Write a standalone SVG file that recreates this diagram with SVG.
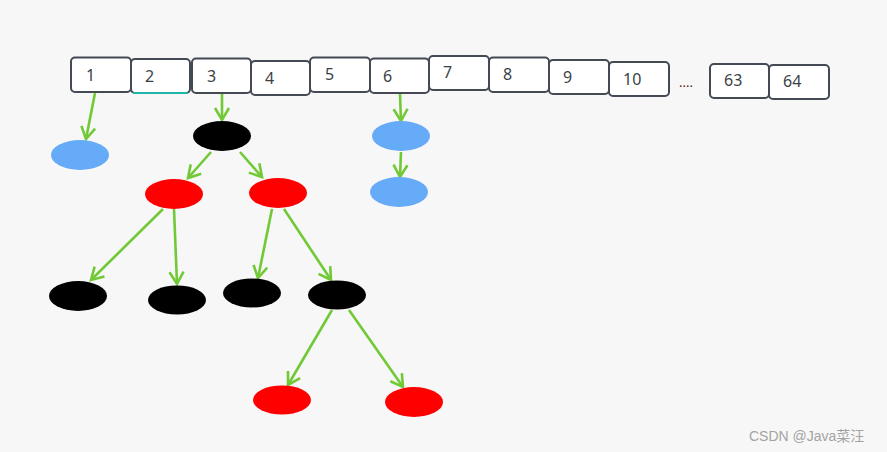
<svg xmlns="http://www.w3.org/2000/svg" width="887" height="452" viewBox="0 0 887 452">
<defs>
<style>
.box{fill:#fff;stroke:#434a54;stroke-width:2}
.lbl{font-family:"Noto Sans","Open Sans",sans-serif;font-size:16px;fill:#3a3f47}
.edge{stroke:#72c936;stroke-width:2.6;fill:none}
.blue{fill:#66abf7}
.red{fill:#ff0000}
.black{fill:#000}
</style>
<marker id="arr" markerUnits="userSpaceOnUse" markerWidth="18" markerHeight="18" refX="13" refY="8" orient="auto" viewBox="0 0 18 16">
<path d="M1,1 L13,8 L1,15" fill="none" stroke="#72c936" stroke-width="2.6"/>
</marker>
</defs>
<rect width="887" height="452" fill="#f7f7f7"/>
<g id="array">
<g id="b1"><rect class="box" x="71" y="57.5" width="60" height="34.5" rx="4"/><text class="lbl" x="86" y="81">1</text></g>
<g id="b2"><rect class="box" x="131" y="59" width="59" height="34" rx="4"/><path d="M133,93 L188,93" stroke="#1fb5a8" stroke-width="2"/><text class="lbl" x="145" y="82">2</text></g>
<g id="b3"><rect class="box" x="192" y="58.5" width="59" height="34.5" rx="4"/><text class="lbl" x="207" y="82">3</text></g>
<g id="b4"><rect class="box" x="251" y="61" width="59" height="34" rx="4"/><text class="lbl" x="265" y="84">4</text></g>
<g id="b5"><rect class="box" x="310" y="57.5" width="60" height="34.5" rx="4"/><text class="lbl" x="325" y="80">5</text></g>
<g id="b6"><rect class="box" x="370" y="58.5" width="59" height="34.5" rx="4"/><text class="lbl" x="383" y="82">6</text></g>
<g id="b7"><rect class="box" x="429" y="56" width="60" height="34" rx="4"/><text class="lbl" x="443" y="78">7</text></g>
<g id="b8"><rect class="box" x="489" y="57.5" width="60" height="34.5" rx="4"/><text class="lbl" x="503" y="80">8</text></g>
<g id="b9"><rect class="box" x="549" y="60" width="60" height="34" rx="4"/><text class="lbl" x="563" y="83">9</text></g>
<g id="b10"><rect class="box" x="609" y="62" width="60" height="34" rx="4"/><text class="lbl" x="623" y="85">10</text></g>
<text class="lbl" x="679" y="87" style="font-size:13px;fill:#5a1a1a">....</text>
<g id="b63"><rect class="box" x="710" y="64" width="59" height="34" rx="4"/><text class="lbl" x="724" y="86">63</text></g>
<g id="b64"><rect class="box" x="769" y="65" width="60" height="34" rx="4"/><text class="lbl" x="783" y="87">64</text></g>
</g>
<g id="connectors">
<line class="edge" x1="95" y1="93" x2="86" y2="139" marker-end="url(#arr)"/>
<line class="edge" x1="222" y1="94" x2="222" y2="120" marker-end="url(#arr)"/>
<line class="edge" x1="211" y1="152" x2="188" y2="178" marker-end="url(#arr)"/>
<line class="edge" x1="240" y1="152" x2="262" y2="177" marker-end="url(#arr)"/>
<line class="edge" x1="163" y1="209" x2="91" y2="280" marker-end="url(#arr)"/>
<line class="edge" x1="174" y1="209" x2="177" y2="284" marker-end="url(#arr)"/>
<line class="edge" x1="272" y1="209" x2="258" y2="278" marker-end="url(#arr)"/>
<line class="edge" x1="284" y1="209" x2="331" y2="280" marker-end="url(#arr)"/>
<line class="edge" x1="332" y1="310" x2="288" y2="385" marker-end="url(#arr)"/>
<line class="edge" x1="349" y1="310" x2="403" y2="387" marker-end="url(#arr)"/>
<line class="edge" x1="400" y1="94" x2="401" y2="121" marker-end="url(#arr)"/>
<line class="edge" x1="401" y1="152" x2="400" y2="177" marker-end="url(#arr)"/>
</g>
<g id="n1"><ellipse class="blue" cx="80" cy="155" rx="29" ry="15"/></g>
<g id="n3"><ellipse class="black" cx="222" cy="136" rx="29" ry="15"/></g>
<g id="n3l"><ellipse class="red" cx="174" cy="194" rx="29" ry="15"/></g>
<g id="n3r"><ellipse class="red" cx="278" cy="193" rx="29" ry="15"/></g>
<g id="n3ll"><ellipse class="black" cx="78" cy="296" rx="29" ry="15"/></g>
<g id="n3lr"><ellipse class="black" cx="177" cy="300" rx="29" ry="14.5"/></g>
<g id="n3rl"><ellipse class="black" cx="252" cy="293" rx="29" ry="14.5"/></g>
<g id="n3rr"><ellipse class="black" cx="337" cy="295" rx="29" ry="14.5"/></g>
<g id="n3rrl"><ellipse class="red" cx="282" cy="400" rx="29" ry="14.5"/></g>
<g id="n3rrr"><ellipse class="red" cx="414" cy="402" rx="29" ry="15"/></g>
<g id="n6a"><ellipse class="blue" cx="401" cy="136" rx="29" ry="15"/></g>
<g id="n6b"><ellipse class="blue" cx="399" cy="192" rx="29" ry="15"/></g>
<text x="749" y="441" style="font-family:'Liberation Sans','Noto Sans CJK SC',sans-serif;font-size:14px;fill:#a3a3a3">CSDN @Java菜汪</text>
</svg>
